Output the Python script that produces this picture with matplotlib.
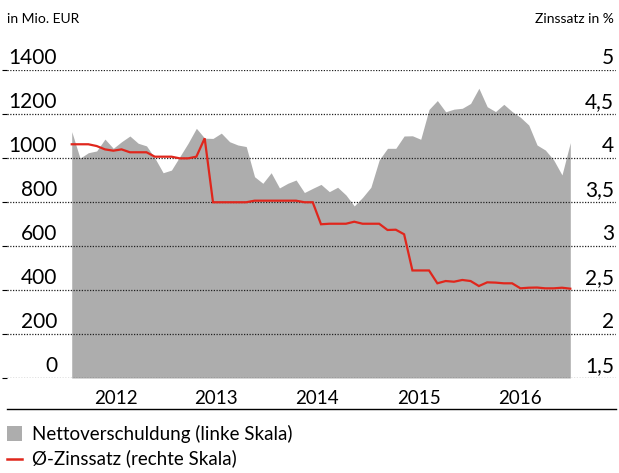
import numpy as np
import matplotlib.pyplot as plt
from matplotlib.patches import Rectangle
from matplotlib.lines import Line2D
import matplotlib.transforms as mtransforms

plt.rcParams['font.family'] = ['Lato', 'DejaVu Sans']

# monthly values, Dec 2011 .. Dec 2016
schulden = [1120, 999, 1024, 1032, 1086, 1044, 1074, 1100, 1067, 1055,
            1000, 933, 945, 1006, 1067, 1135, 1090, 1089, 1113, 1074,
            1059, 1052, 915, 885, 933, 864, 885, 900, 843, 862,
            880, 847, 867, 832, 782, 821, 867, 991, 1044, 1044,
            1100, 1101, 1085, 1221, 1261, 1210, 1222, 1226, 1248, 1317,
            1233, 1211, 1244, 1211, 1185, 1150, 1059, 1036, 991, 923,
            1070]
zinssatz = [4.156, 4.156, 4.156, 4.136, 4.098, 4.083, 4.098, 4.065, 4.065, 4.065,
            4.015, 4.015, 4.015, 3.996, 3.996, 4.015, 4.224, 3.497, 3.497, 3.497,
            3.497, 3.497, 3.515, 3.515, 3.515, 3.515, 3.515, 3.515, 3.497, 3.497,
            3.247, 3.253, 3.253, 3.253, 3.276, 3.253, 3.253, 3.253, 3.182, 3.185,
            3.133, 2.722, 2.722, 2.722, 2.576, 2.602, 2.594, 2.614, 2.602, 2.545,
            2.587, 2.584, 2.576, 2.576, 2.519, 2.526, 2.528, 2.519, 2.519, 2.526,
            2.515]
jahre = ['2012', '2013', '2014', '2015', '2016']
jahr_pos = [5.3, 17.4, 29.5, 41.8, 53.9]
links_ticks = [0, 200, 400, 600, 800, 1000, 1200, 1400]
rechts_ticks = ['1,5', '2', '2,5', '3', '3,5', '4', '4,5', '5']
rechts_werte = [1.5, 2, 2.5, 3, 3.5, 4, 4.5, 5]

W, H = 619, 473
grau = '#adadad'
rot = '#e0261c'

fig = plt.figure(figsize=(W / 100, H / 100), dpi=100)
ax = fig.add_axes([7 / W, 1 - 378 / H, (616 - 7) / W, (378 - 70) / H])
x = np.arange(len(schulden))

ax.fill_between(x, 0, schulden, color=grau, lw=0, zorder=1)
ax.set_xlim(-7.79, 65.5)
ax.set_ylim(0, 1400)
ax.set_yticks(links_ticks)
ax.set_yticklabels([])
ax.tick_params(left=False, bottom=False, labelsize=13.5, pad=5)
ax.set_xticks(jahr_pos, jahre)
ax.yaxis.grid(True, linestyle=(0, (1, 1.2)), color='#222222', lw=0.9)
ax.set_axisbelow(False)
for s in ax.spines.values():
    s.set_visible(False)

ax2 = ax.twinx()
ax2.plot(x, zinssatz, color=rot, lw=1.6, solid_joinstyle='miter')
ax2.set_ylim(1.5, 5)
ax2.set_yticks([])
for s in ax2.spines.values():
    s.set_visible(False)

# tick labels sitting above the gridlines
trans_l = mtransforms.blended_transform_factory(ax.transAxes, ax.transData)
for v in links_ticks:
    ax.annotate(str(v), xy=((57 - 7) / 609, v), xycoords=trans_l,
                xytext=(0, 4), textcoords='offset points',
                ha='right', va='baseline', fontsize=15)
trans_r = mtransforms.blended_transform_factory(ax2.transAxes, ax2.transData)
for lab, v in zip(rechts_ticks, rechts_werte):
    ax2.annotate(lab, xy=((614 - 7) / 609, v), xycoords=trans_r,
                 xytext=(0, 4), textcoords='offset points',
                 ha='right', va='baseline', fontsize=15)

# line under year labels
ax.plot([0, 1], [-31 / 308, -31 / 308], transform=ax.transAxes,
        color='black', lw=1, clip_on=False)

fig.text(7 / W, 1 - 19 / H, 'in Mio. EUR', fontsize=10, va='center')
fig.text(614 / W, 1 - 19 / H, 'Zinssatz in %', fontsize=10, va='center', ha='right')

# legend
fig.add_artist(Rectangle((7 / W, 1 - 441 / H), 15 / W, 15 / H,
                         transform=fig.transFigure, color=grau, lw=0))
fig.add_artist(Line2D([7 / W, 22 / W], [1 - 459 / H, 1 - 459 / H],
                      transform=fig.transFigure, color=rot, lw=1.8))
fig.text(32 / W, 1 - 434 / H, 'Nettoverschuldung (linke Skala)', fontsize=13.5, va='center')
fig.text(32 / W, 1 - 458 / H, 'Ø-Zinssatz (rechte Skala)', fontsize=13.5, va='center')

fig.savefig('out.png', dpi=100)
